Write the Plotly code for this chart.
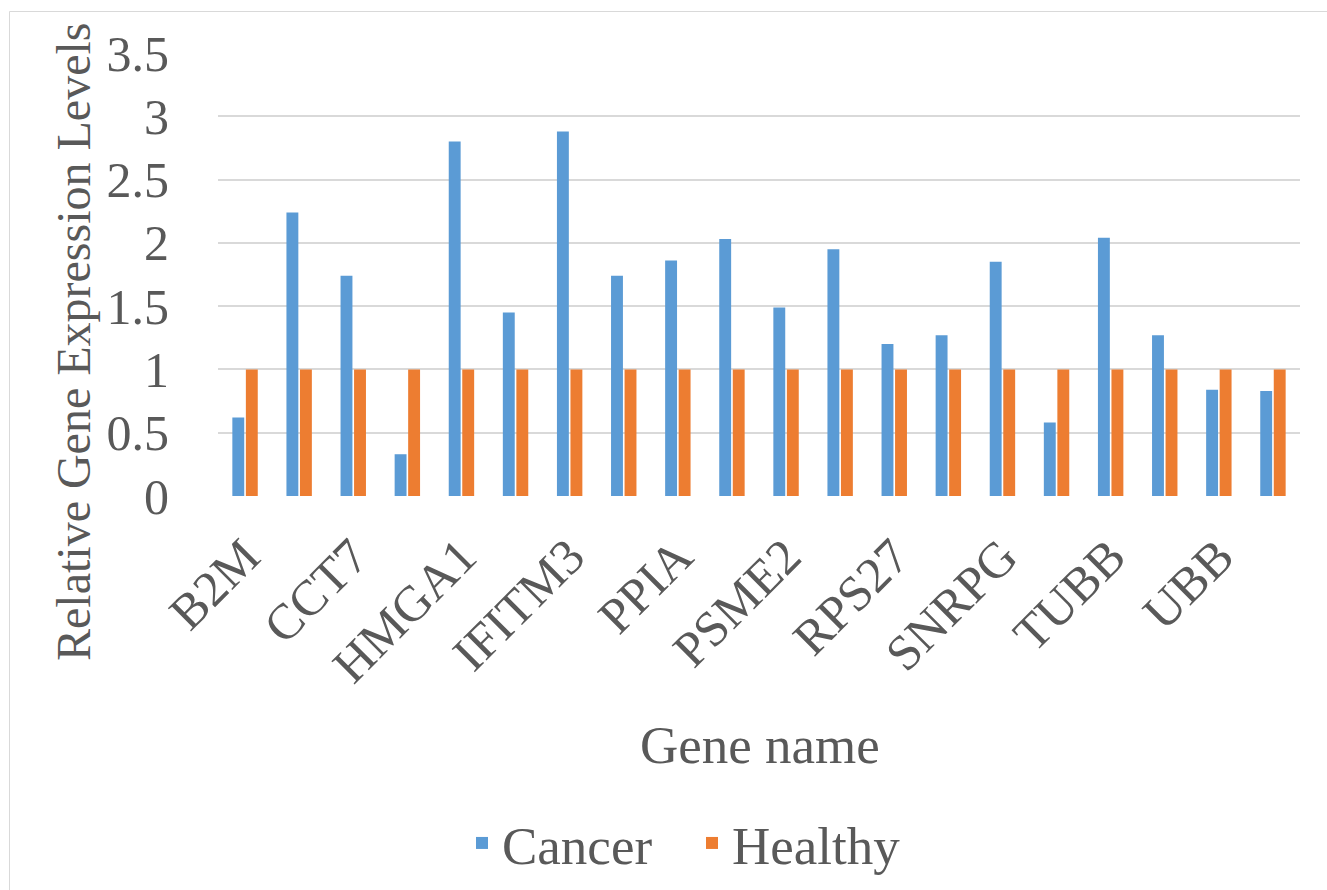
import plotly.graph_objects as go

# category positions (20 genes, only every other one is labelled in the reference)
n_genes = 20
tick_labels = ["B2M", "CCT7", "HMGA1", "IFITM3", "PPIA",
               "PSME2", "RPS27", "SNRPG", "TUBB", "UBB"]
cancer = [0.62, 2.24, 1.74, 0.33, 2.80, 1.45, 2.88, 1.74, 1.86, 2.03,
          1.49, 1.95, 1.20, 1.27, 1.85, 0.58, 2.04, 1.27, 0.84, 0.83]
healthy = [1, 1, 1, 1, 1, 1, 1, 1, 1, 1,
           1, 1, 1, 1, 1, 1, 1, 1, 1, 1]
y_ticks = [0, 0.5, 1, 1.5, 2, 2.5, 3, 3.5]

x_pos = list(range(n_genes))
tick_pos = x_pos[::2]

FONT = "Liberation Serif"
GREY = "#595959"

fig = go.Figure()
fig.add_trace(go.Bar(x=x_pos, y=cancer, name="Cancer",
                     marker=dict(color="#5b9bd5", line=dict(width=0))))
fig.add_trace(go.Bar(x=x_pos, y=healthy, name="Healthy",
                     marker=dict(color="#ed7d31", line=dict(width=0))))

W, H = 1327, 890
L, R, T, B = 218, 27, 53, 394
pw, ph = W - L - R, H - T - B


def px2paper_x(px):
    return (px - L) / pw


def px2paper_y(py):
    return (H - B - py) / ph


fig.update_layout(
    width=W, height=H,
    margin=dict(l=L, r=R, t=T, b=B, autoexpand=False),
    paper_bgcolor="white", plot_bgcolor="white",
    barmode="group", bargap=0.5, bargroupgap=0.12,
    font=dict(family=FONT, color=GREY, size=50),
    showlegend=True,
    legend=dict(orientation="h", x=px2paper_x(462), y=px2paper_y(843),
                xanchor="left", yanchor="middle",
                font=dict(size=53, family=FONT, color=GREY),
                itemwidth=30, entrywidth=185, entrywidthmode="pixels",
                bgcolor="rgba(0,0,0,0)"),
    xaxis=dict(range=[-0.5, n_genes - 0.5], tickmode="array",
               tickvals=tick_pos, ticktext=tick_labels, tickangle=-45,
               showgrid=False, zeroline=False, showline=False,
               ticks="", ticklabelstandoff=20,
               tickfont=dict(size=50, family=FONT, color=GREY)),
    yaxis=dict(range=[0, 3.5], tickmode="array", tickvals=y_ticks,
               ticktext=[f"{v:g}" for v in y_ticks],
               showgrid=True, gridcolor="#d9d9d9", gridwidth=1.5,
               zeroline=False, showline=False, ticks="",
               ticklabelstandoff=48,
               tickfont=dict(size=50, family=FONT, color=GREY)),
    annotations=[
        dict(text="Relative Gene Expression Levels", textangle=-90,
             xref="paper", yref="paper", x=px2paper_x(73), y=px2paper_y(342),
             xanchor="center", yanchor="middle", showarrow=False,
             font=dict(size=48, family=FONT, color=GREY)),
        dict(text="Gene name", xref="paper", yref="paper",
             x=px2paper_x(760), y=px2paper_y(745),
             xanchor="center", yanchor="middle", showarrow=False,
             font=dict(size=53, family=FONT, color=GREY)),
    ],
    shapes=[
        dict(type="rect", xref="paper", yref="paper",
             x0=px2paper_x(9.5), x1=px2paper_x(1340),
             y0=px2paper_y(900), y1=px2paper_y(11.5),
             line=dict(color="#d9d9d9", width=1), fillcolor="rgba(0,0,0,0)",
             layer="below"),
    ],
)

fig.write_html("out.html")
